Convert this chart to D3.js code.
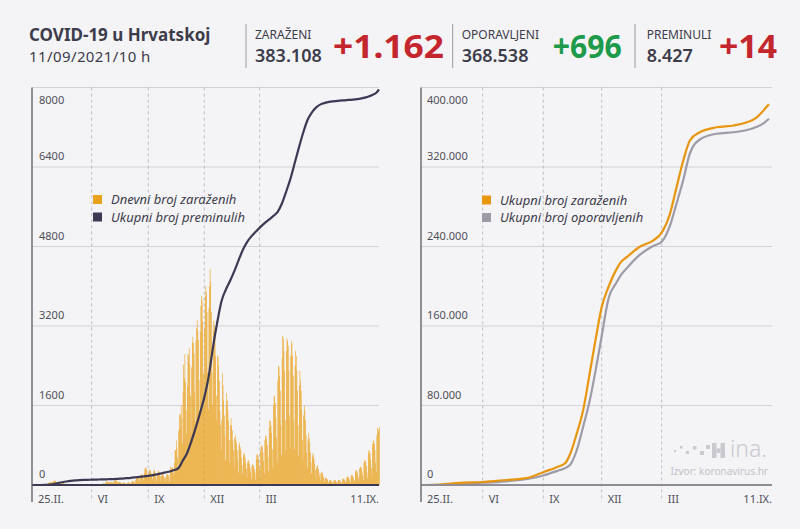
<!DOCTYPE html>
<html><head><meta charset="utf-8">
<script src="https://cdn.jsdelivr.net/npm/d3@7"></script>
<style>
html,body{margin:0;padding:0;background:#f4f4f6;}
svg{display:block;}
text{font-family:"Noto Sans","Open Sans",sans-serif;}
</style></head><body>
<svg id="c" width="800" height="529"></svg>
<script>
// ---------- DATA ----------
const startDate = "2020-02-25";
const endDate = "2021-09-11";
// daily new cases from 2020-02-25 to 2021-09-11
const dailyCases = [
1,0,0,1,0,1,2, 0,1,1,0,2,1,0, 1,2,3,5,6,8,5, 16,12,24,26,22,28,50,
52,59,54,46,71,61,55, 77,96,82,78,64,57,40, 55,58,43,52,59,28,21, 50,39,33,28,24,18,14,
25,27,16,14,11,12,9, 11,10,8,9,6,5,2, 6,4,3,2,5,1,1, 2,1,3,1,0,0,1,
1,0,1,0,2,0,0, 1,0,0,1,0,1,0, 1,0,2,0,1,0,1, 2,1,4,3,5,8,6,
11,18,14,26,36,32,20, 52,39,95,59,58,67,31, 62,56,65,55,60,52,35, 82,80,116,92,74,76,48,
55,65,58,60,41,33,27, 37,43,47,52,30,21,24, 38,37,57,48,32,41,22, 46,80,74,82,64,54,30,
99,124,180,146,142,129,67, 160,200,212,195,209,149,103, 240,328,352,339,296,211,123, 227,303,310,294,250,194,110,
195,269,304,282,238,158,85, 183,243,292,267,223,177,79, 188,226,227,209,161,131,66, 159,192,222,214,199,167,69,
246,363,334,348,355,254,212, 453,701,699,899,748,552,355, 1098,1424,1131,1420,1606,1346,843, 1864,2421,2153,2637,2077,1506,1038,
1993,2639,2603,2752,2441,1800,1050, 2367,2870,2982,2855,2641,1875,1280, 2898,3164,3312,3111,2916,2108,1490, 3082,3603,3809,3712,3284,2246,1563,
3141,3800,3998,3887,3482,2258,1519, 3555,4009,4350,4096,3482,2258,1610, 3100,3300,3200,2980,2600,1800,1300, 2600,2580,2400,2100,1500,1200,700,
1300,2250,2010,1700,1400,1000,500, 1600,1850,1700,1500,1300,900,450, 1200,1350,1200,1100,900,700,350, 950,1000,900,850,700,500,250,
800,850,760,700,550,400,220, 600,650,620,540,430,330,160, 460,500,480,420,350,260,120, 380,420,400,380,320,250,110,
520,610,620,580,500,350,170, 700,800,780,760,650,480,230, 900,1000,980,920,800,560,280, 1150,1300,1290,1200,1050,720,350,
1600,1800,1780,1650,1350,950,480, 2100,2400,2380,2200,1900,1200,600, 2550,3000,2950,2700,2300,1300,700, 2700,2950,2900,2800,2300,1400,750,
2600,2900,2850,2600,2200,1300,720, 2400,2700,2600,2300,1900,1200,600, 2000,2300,2100,1900,1500,900,500, 1400,1600,1500,1300,1000,650,350,
900,1050,950,850,650,450,230, 560,640,600,520,420,300,140, 350,400,380,320,250,180,90, 230,270,250,220,170,120,60,
130,150,140,120,100,70,35, 90,100,95,85,70,50,25, 85,100,95,90,70,50,30, 90,100,100,90,75,55,30,
110,130,120,115,90,70,40, 150,170,165,150,120,90,50, 180,200,195,180,150,100,60, 260,300,290,270,220,150,80,
330,370,360,340,280,190,100, 450,500,490,460,380,250,140, 630,700,680,640,520,350,190, 820,900,880,830,700,450,260,
1000,1150,1120,1080,1162
];
// cumulative deaths, weekly from 2020-02-25, then the last day
const deathsWeekly = [0,0,0,1,6,20,38,55,70,82,92,98,102,105,107,110,112,114,117,120,125,130,137,145,155,165,175,185,200,215,235,255,272,300,340,490,640,880,1150,1445,1760,2170,2760,3270,3700,3930,4110,4310,4530,4740,4900,5010,5100,5190,5270,5340,5410,5490,5660,5900,6160,6480,6800,7100,7350,7500,7600,7660,7690,7710,7722,7732,7740,7747,7752,7760,7772,7790,7815,7850,7900];
const deathsLast = 7960;

// cumulative cases / recovered (right chart)
const totalDates = ["2020-02-25","2020-03-26","2020-04-26","2020-06-01","2020-06-27","2020-07-28","2020-08-12","2020-09-01","2020-09-22","2020-10-05","2020-10-13","2020-10-23","2020-11-02","2020-11-13","2020-11-23","2020-12-01","2020-12-11","2020-12-23","2020-12-30","2021-01-08","2021-01-27","2021-02-16","2021-03-01","2021-03-16","2021-03-28","2021-04-09","2021-04-21","2021-05-09","2021-06-08","2021-07-09","2021-08-02","2021-08-20","2021-09-01","2021-09-11"];
const totalCases = [0,500,2200,3000,4500,6200,7800,12900,17900,21900,31400,51500,75000,115000,152000,179000,199000,217000,224500,229500,239700,246000,254000,273000,300000,326500,346700,355000,360000,361800,365000,370000,376900,383108];
const totalRecovered = [0,30,1300,2300,3200,5000,6500,9600,14000,17000,20500,34700,58400,86900,120700,150000,187000,203600,211500,218500,231500,240500,244800,260900,283500,306900,333700,347700,353500,355000,357200,360500,363900,368538];

const leftTicks = [0,1600,3200,4800,6400,8000];
const rightTicks = [0,80000,160000,240000,320000,400000];
const monthDates = ["2020-06-01","2020-09-01","2020-12-01","2021-03-01"];
const monthLabels = ["VI","IX","XII","III"];
const startLabel = "25.II.", endLabel = "11.IX.";

const header = {title:"COVID-19 u Hrvatskoj", date:"11/09/2021/10 h"};
const statLabels = ["ZARAŽENI","OPORAVLJENI","PREMINULI"];
const statTotals = ["383.108","368.538","8.427"];
const statDeltas = ["+1.162","+696","+14"];
const legendLeft = ["Dnevni broj zaraženih","Ukupni broj preminulih"];
const legendRight = ["Ukupni broj zaraženih","Ukupni broj oporavljenih"];

// ---------- DRAW ----------
const parse = d3.utcParse("%Y-%m-%d");
const t0 = parse(startDate), t1 = parse(endDate);
const dayAt = i => d3.utcDay.offset(t0, i);

const C = {bg:"#f4f4f6", text:"#3d3c4b", red:"#c4262e", green:"#1d9a4a",
  bar:"#eaa321", death:"#3b3953", orange:"#e8950f", gray:"#9d9ba7",
  grid:"#d3d3d7", dash:"#bdbdc3", tick:"#4f4f58"};

const svg = d3.select("#c");
svg.append("rect").attr("width",800).attr("height",529).attr("fill",C.bg);

// header
svg.append("text").attr("x",29).attr("y",41).attr("font-size",17).attr("font-weight",700)
  .attr("fill",C.text).text(header.title);
svg.append("text").attr("x",29).attr("y",62).attr("font-size",15).attr("letter-spacing",0.4)
  .attr("fill",C.text).text(header.date);
const sepX = [246, 452.7, 635];
sepX.forEach(x => svg.append("line").attr("x1",x).attr("x2",x).attr("y1",24).attr("y2",68)
  .attr("stroke","#9a9aa0").attr("stroke-width",1));
const statX = [255, 461.7, 646.7];
const deltaX = [333, 552.7, 719];
const deltaW = [111, 69, 58];
const deltaCol = [C.red, C.green, C.red];
statLabels.forEach((s,i) => {
  svg.append("text").attr("x",statX[i]).attr("y",38.5).attr("font-size",12).attr("fill",C.text).text(s);
  svg.append("text").attr("x",statX[i]).attr("y",62).attr("font-size",18).attr("font-weight",600)
    .attr("fill",C.text).text(statTotals[i]);
  svg.append("text").attr("x",deltaX[i]).attr("y",57.5).attr("font-size",33).attr("font-weight",700)
    .attr("textLength",deltaW[i]).attr("lengthAdjust","spacingAndGlyphs")
    .attr("fill",deltaCol[i]).text(statDeltas[i]);
});

const yTop = 87.5, yBase = 485, yAxisBottom = 502;
const fmtR = d3.formatLocale({decimal:",",thousands:".",grouping:[3],currency:["",""]}).format(",");

function panel(o){
  const g = svg.append("g");
  const y = d3.scaleLinear().domain([0, o.ticks[o.ticks.length-1]]).range([yBase, yTop]);
  g.selectAll(".grid").data(o.ticks.filter(t=>t>0)).join("line")
    .attr("x1",o.x0).attr("x2",o.gridEnd).attr("y1",d=>y(d)).attr("y2",d=>y(d))
    .attr("stroke",C.grid).attr("stroke-width",1);
  const md = monthDates.map(parse);
  g.selectAll(".mline").data(md).join("line")
    .attr("x1",d=>o.x(d)).attr("x2",d=>o.x(d)).attr("y1",yTop).attr("y2",yAxisBottom)
    .attr("stroke",C.dash).attr("stroke-width",1).attr("stroke-dasharray","3,3");
  const top = o.ticks[o.ticks.length-1];
  g.selectAll(".yl").data(o.ticks).join("text")
    .attr("x",o.x0+o.labelDx).attr("y",d=> d===top ? y(d)+16.5 : y(d)-7)
    .attr("font-size",11).attr("fill",C.tick).text(o.fmt);
  o.g = g; o.y = y;
  return o;
}
function finishPanel(o){
  const g = o.g;
  g.append("line").attr("x1",o.x0).attr("x2",o.gridEnd).attr("y1",yBase).attr("y2",yBase)
    .attr("stroke",o.baseColor).attr("stroke-width",2);
  g.append("line").attr("x1",o.x0).attr("x2",o.x0).attr("y1",yTop).attr("y2",yAxisBottom)
    .attr("stroke","#66656f").attr("stroke-width",1.4);
  const md = monthDates.map(parse);
  g.selectAll(".xl").data(md).join("text")
    .attr("x",d=>o.x(d)+6).attr("y",503).attr("font-size",11).attr("fill",C.tick)
    .text((d,i)=>monthLabels[i]);
  g.append("text").attr("x",o.x0+6).attr("y",503).attr("font-size",11).attr("fill",C.tick).text(startLabel);
  g.append("text").attr("x",o.gridEnd).attr("y",503).attr("text-anchor","end").attr("font-size",11)
    .attr("fill",C.tick).text(endLabel);
}
function legend(x, y, items, colors){
  items.forEach((s,i)=>{
    svg.append("rect").attr("x",x).attr("y",y+i*17.5).attr("width",9).attr("height",9).attr("fill",colors[i]);
    svg.append("text").attr("x",x+18).attr("y",y+i*17.5+9).attr("font-size",13).attr("font-style","italic")
      .attr("fill",C.text).text(s);
  });
}

// LEFT
const xL = d3.scaleUtc().domain([t0,t1]).range([32,379]);
const L = panel({x0:32, gridEnd:379, x:xL, ticks:leftTicks, fmt:d=>String(d), labelDx:7, baseColor:"#3b3953"});
L.g.selectAll(".bar").data(dailyCases).join("rect")
  .attr("x",(d,i)=>xL(dayAt(i)))
  .attr("width",(d,i)=>xL(dayAt(i+1))-xL(dayAt(i)))
  .attr("y",d=>L.y(d)).attr("height",d=>yBase-L.y(d))
  .attr("fill",C.bar);
const deathPts = deathsWeekly.map((v,k)=>[dayAt(7*k), v]).concat([[t1, deathsLast]]);
L.g.append("path").datum(deathPts)
  .attr("d", d3.line().x(d=>xL(d[0])).y(d=>L.y(d[1])).curve(d3.curveMonotoneX))
  .attr("fill","none").attr("stroke",C.death).attr("stroke-width",2.2);
finishPanel(L);
legend(93, 195, legendLeft, ["#e8a21c", C.death]);

// RIGHT
const xR = d3.scaleUtc()
  .domain([t0, ...monthDates.map(parse), t1])
  .range([421, 482.7, 543.3, 601.7, 661.7, 769]);
const R = panel({x0:421, gridEnd:772, x:xR, ticks:rightTicks, fmt:d=>fmtR(d), labelDx:6, baseColor:"#8e8d95"});
const td = totalDates.map(parse);
const lineR = d3.line().x((d,i)=>xR(td[i])).y(d=>R.y(d)).curve(d3.curveMonotoneX);
R.g.append("path").datum(totalRecovered).attr("d",lineR).attr("fill","none")
  .attr("stroke",C.gray).attr("stroke-width",2.2);
R.g.append("path").datum(totalCases).attr("d",lineR).attr("fill","none")
  .attr("stroke",C.orange).attr("stroke-width",2.2);
finishPanel(R);
legend(482, 195.5, legendRight, [C.orange, C.gray]);

// source / logo
const logo = svg.append("g").attr("fill","#c9c9cf");
[[674,450,2],[680,446,2.5],[686,451,3],[693,446,3.5],[700,451,4],[706,445,4]].forEach(s=>
  logo.append("rect").attr("x",s[0]).attr("y",s[1]).attr("width",s[2]).attr("height",s[2]));
logo.append("rect").attr("x",712).attr("y",443).attr("width",4.5).attr("height",15);
logo.append("rect").attr("x",716.5).attr("y",448.5).attr("width",4).attr("height",4.5);
logo.append("rect").attr("x",720.5).attr("y",443).attr("width",4.5).attr("height",15);
logo.append("text").attr("x",767).attr("y",457).attr("text-anchor","end").attr("font-size",23)
  .attr("font-weight",300).text("ina.");
svg.append("text").attr("x",768).attr("y",474.5).attr("text-anchor","end").attr("font-size",10)
  .attr("fill","#c2c2c8").text("Izvor: koronavirus.hr");
</script>
</body></html>
